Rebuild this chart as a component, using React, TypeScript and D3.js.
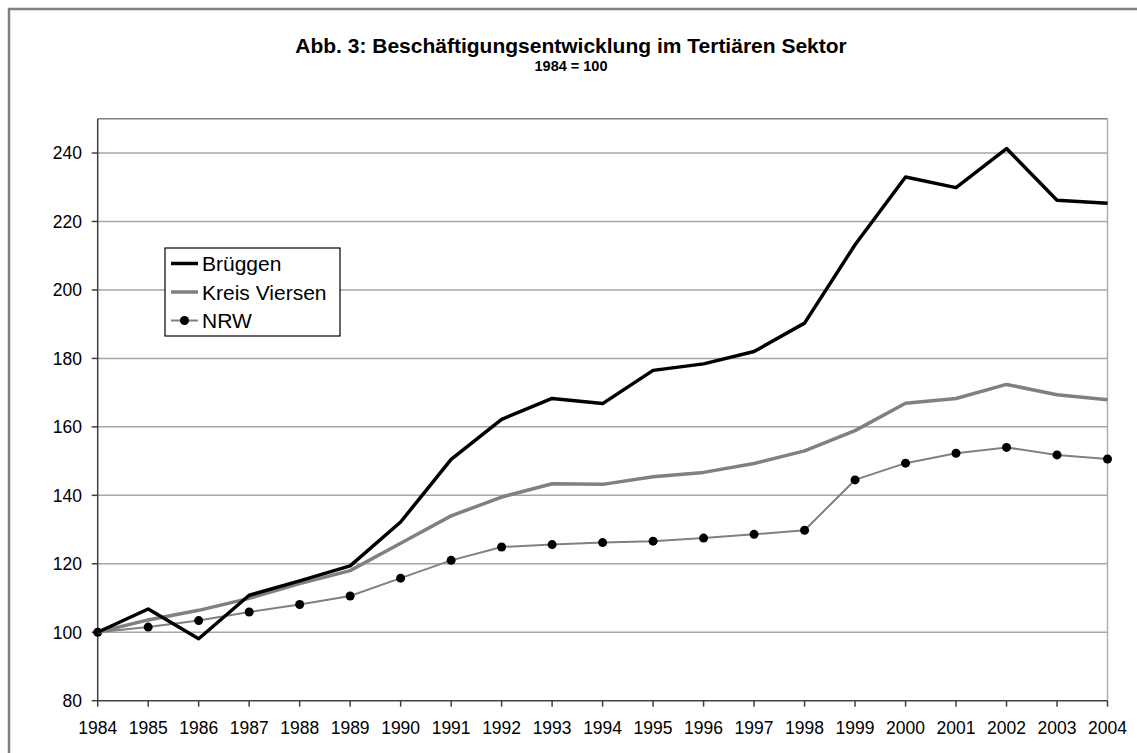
import React from "react";
import * as d3 from "d3";

const years = [1984,1985,1986,1987,1988,1989,1990,1991,1992,1993,1994,1995,1996,1997,1998,1999,2000,2001,2002,2003,2004];
const brueggen = [100,106.8,98.1,110.8,115.0,119.4,132.2,150.5,162.2,168.3,166.8,176.5,178.4,182.0,190.3,213.2,233.0,229.9,241.3,226.2,225.3];
const kreis = [100,103.6,106.4,109.9,114.2,118.0,126.0,134.0,139.5,143.4,143.2,145.4,146.7,149.3,153.0,158.9,166.9,168.3,172.4,169.4,167.9];
const nrw = [100,101.5,103.4,105.9,108.1,110.6,115.8,121.0,124.9,125.6,126.2,126.6,127.5,128.6,129.8,144.5,149.4,152.3,154.0,151.8,150.6];
const yTicks = [80,100,120,140,160,180,200,220,240];
const seriesNames = ["Brüggen","Kreis Viersen","NRW"];
const title = "Abb. 3: Beschäftigungsentwicklung im Tertiären Sektor";
const subtitle = "1984 = 100";

export default function App() {
  const W = 1137, H = 753;
  const L = 97.7, R = 1107.5, T = 118.8, B = 700.7;
  const x = d3.scaleLinear().domain([1984, 2004]).range([L, R]);
  const y = d3.scaleLinear().domain([80, 250]).range([B, T]);
  const line = d3.line<number>().x((_, i) => x(years[i])).y((d) => y(d));
  const font = "Arial, 'Liberation Sans', Helvetica, sans-serif";
  const legendRows = [263.5, 292, 320.5];
  return (
    <svg width={W} height={H} style={{ position: "absolute", left: 0, top: 0, background: "#fff" }} fontFamily={font}>
      <rect x={0} y={0} width={W} height={H} fill="#fff" />
      <rect x={9} y={9} width={W + 20} height={H + 20} fill="none" stroke="#808080" strokeWidth={2.5} />
      <text x={571} y={53} textAnchor="middle" fontWeight="bold" fontSize={21}>{title}</text>
      <text x={571} y={70.5} textAnchor="middle" fontWeight="bold" fontSize={14.5}>{subtitle}</text>
      {yTicks.filter((t) => t > 80).map((t) => (
        <line key={"g" + t} x1={L} x2={R} y1={y(t)} y2={y(t)} stroke="#a6a6a6" strokeWidth={1.5} />
      ))}
      <line x1={L} x2={R} y1={T} y2={T} stroke="#808080" strokeWidth={1.5} />
      <line x1={R} x2={R} y1={T} y2={B} stroke="#b0b0b0" strokeWidth={1.5} />
      <line x1={L} x2={L} y1={T} y2={B} stroke="#404040" strokeWidth={1.5} />
      <line x1={L} x2={R} y1={B} y2={B} stroke="#404040" strokeWidth={1.5} />
      {yTicks.map((t) => (
        <g key={"y" + t}>
          <line x1={L - 6} x2={L} y1={y(t)} y2={y(t)} stroke="#404040" strokeWidth={1.5} />
          <text x={82} y={y(t)} dy="0.36em" textAnchor="end" fontSize={17.5}>{t}</text>
        </g>
      ))}
      {years.map((yr) => (
        <g key={"x" + yr}>
          <line x1={x(yr)} x2={x(yr)} y1={B} y2={B + 6} stroke="#404040" strokeWidth={1.5} />
          <text x={x(yr)} y={734} textAnchor="middle" fontSize={17.5}>{yr}</text>
        </g>
      ))}
      <path d={line(nrw) || ""} fill="none" stroke="#808080" strokeWidth={2} />
      {nrw.map((v, i) => (
        <circle key={"n" + i} cx={x(years[i])} cy={y(v)} r={4.5} fill="#000" />
      ))}
      <path d={line(kreis) || ""} fill="none" stroke="#808080" strokeWidth={3.5} strokeLinejoin="round" />
      <path d={line(brueggen) || ""} fill="none" stroke="#000" strokeWidth={3.5} strokeLinejoin="round" />
      <rect x={165} y={248} width={175} height={88} fill="#fff" stroke="#000" strokeWidth={1.2} />
      {seriesNames.map((n, i) => (
        <g key={n}>
          <line x1={171} x2={198} y1={legendRows[i]} y2={legendRows[i]}
            stroke={i === 0 ? "#000" : "#808080"} strokeWidth={i === 2 ? 2 : 3.5} />
          {i === 2 && <circle cx={184.5} cy={legendRows[i]} r={4.5} fill="#000" />}
          <text x={202} y={legendRows[i]} dy="0.36em" fontSize={21}>{n}</text>
        </g>
      ))}
    </svg>
  );
}
